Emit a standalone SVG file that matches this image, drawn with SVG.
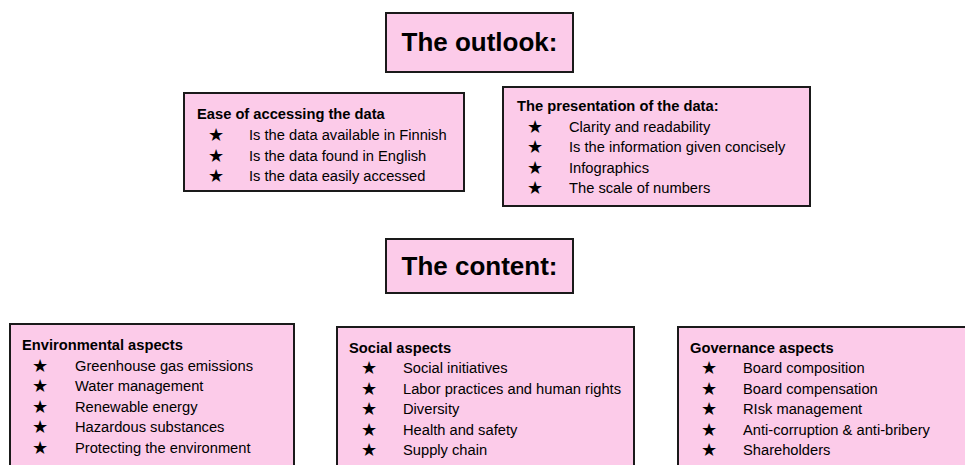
<svg xmlns="http://www.w3.org/2000/svg" width="965" height="465" viewBox="0 0 965 465">
  <style>
    .box { fill: #fccbe9; stroke: #1a1a1a; stroke-width: 2; }
    .head { font-family: "Liberation Sans", Arial, sans-serif; font-weight: bold; font-size: 26px; fill: #000; }
    .title { font-family: "Liberation Sans", Arial, sans-serif; font-weight: bold; font-size: 14.7px; fill: #000; }
    .item { font-family: "Liberation Sans", Arial, sans-serif; font-size: 14.7px; fill: #000; }
    .star { font-family: "DejaVu Sans", sans-serif; font-size: 18px; fill: #000; }
  </style>
  <rect width="965" height="465" fill="#ffffff"/>

  <!-- section heading: outlook -->
  <g id="outlook">
    <rect class="box" x="386" y="13" width="187" height="59"/>
    <text class="head" x="479.5" y="51" text-anchor="middle">The outlook:</text>
  </g>

  <!-- ease of access -->
  <g id="ease-of-access">
    <rect class="box" x="184" y="93" width="280" height="98"/>
    <text class="title" x="197" y="119">Ease of accessing the data</text>
    <text class="star" x="208" y="141">★</text>
    <text class="item" x="249" y="140">Is the data available in Finnish</text>
    <text class="star" x="208" y="161.5">★</text>
    <text class="item" x="249" y="160.5">Is the data found in English</text>
    <text class="star" x="208" y="182">★</text>
    <text class="item" x="249" y="181">Is the data easily accessed</text>
  </g>

  <!-- presentation -->
  <g id="presentation">
    <rect class="box" x="503" y="87" width="307" height="119"/>
    <text class="title" x="517" y="111">The presentation of the data:</text>
    <text class="star" x="527" y="132.5">★</text>
    <text class="item" x="569" y="131.5">Clarity and readability</text>
    <text class="star" x="527" y="153">★</text>
    <text class="item" x="569" y="152">Is the information given concisely</text>
    <text class="star" x="527" y="173.5">★</text>
    <text class="item" x="569" y="172.5">Infographics</text>
    <text class="star" x="527" y="194">★</text>
    <text class="item" x="569" y="193">The scale of numbers</text>
  </g>

  <!-- section heading: content -->
  <g id="content">
    <rect class="box" x="386" y="239" width="187" height="54"/>
    <text class="head" x="479.5" y="275" text-anchor="middle">The content:</text>
  </g>

  <!-- environmental -->
  <g id="environmental">
    <rect class="box" x="10" y="324" width="284" height="160"/>
    <text class="title" x="22" y="350">Environmental aspects</text>
    <text class="star" x="32" y="371.5">★</text>
    <text class="item" x="75" y="370.5">Greenhouse gas emissions</text>
    <text class="star" x="32" y="392">★</text>
    <text class="item" x="75" y="391">Water management</text>
    <text class="star" x="32" y="412.5">★</text>
    <text class="item" x="75" y="411.5">Renewable energy</text>
    <text class="star" x="32" y="433">★</text>
    <text class="item" x="75" y="432">Hazardous substances</text>
    <text class="star" x="32" y="453.5">★</text>
    <text class="item" x="75" y="452.5">Protecting the environment</text>
  </g>

  <!-- social -->
  <g id="social">
    <rect class="box" x="337" y="327" width="297" height="160"/>
    <text class="title" x="349" y="353">Social aspects</text>
    <text class="star" x="361" y="374">★</text>
    <text class="item" x="403" y="373">Social initiatives</text>
    <text class="star" x="361" y="394.5">★</text>
    <text class="item" x="403" y="393.5">Labor practices and human rights</text>
    <text class="star" x="361" y="415">★</text>
    <text class="item" x="403" y="414">Diversity</text>
    <text class="star" x="361" y="435.5">★</text>
    <text class="item" x="403" y="434.5">Health and safety</text>
    <text class="star" x="361" y="456">★</text>
    <text class="item" x="403" y="455">Supply chain</text>
  </g>

  <!-- governance -->
  <g id="governance">
    <rect class="box" x="678" y="327" width="310" height="160"/>
    <text class="title" x="690" y="353">Governance aspects</text>
    <text class="star" x="701" y="374">★</text>
    <text class="item" x="743" y="373">Board composition</text>
    <text class="star" x="701" y="394.5">★</text>
    <text class="item" x="743" y="393.5">Board compensation</text>
    <text class="star" x="701" y="415">★</text>
    <text class="item" x="743" y="414">RIsk management</text>
    <text class="star" x="701" y="435.5">★</text>
    <text class="item" x="743" y="434.5">Anti-corruption &amp; anti-bribery</text>
    <text class="star" x="701" y="456">★</text>
    <text class="item" x="743" y="455">Shareholders</text>
  </g>

  <!-- no connectors between the boxes -->
  <g id="connectors"/>
</svg>
